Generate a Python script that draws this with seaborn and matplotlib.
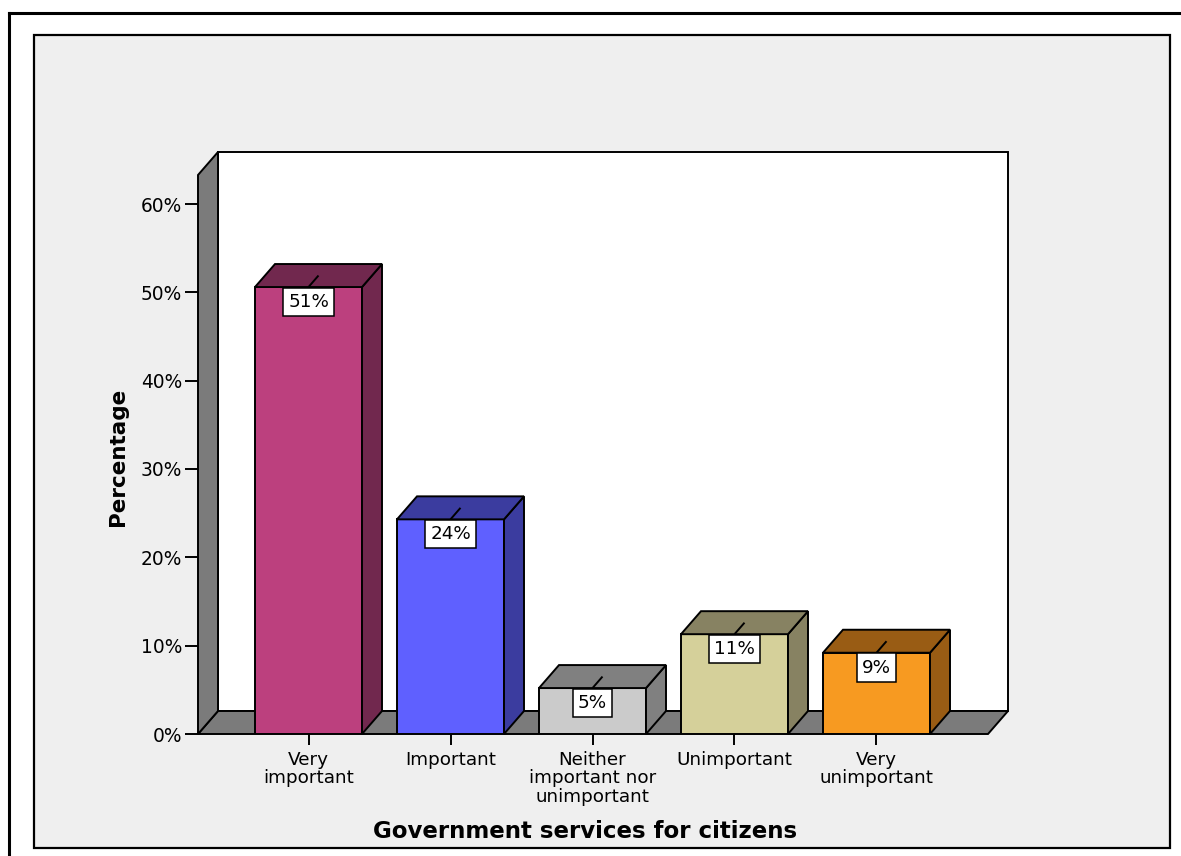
import matplotlib
matplotlib.use("Agg")
import matplotlib.pyplot as plt
from matplotlib.patches import Polygon, Rectangle
from matplotlib.lines import Line2D
import seaborn as sns
import pandas as pd

# ---- data -------------------------------------------------------------
categories = ["Very important", "Important", "Neither important nor unimportant",
              "Unimportant", "Very unimportant"]
tick_labels = ["Very\nimportant", "Important", "Neither\nimportant nor\nunimportant",
               "Unimportant", "Very\nunimportant"]
percentages = [50.6, 24.3, 5.2, 11.3, 9.2]
y_ticks = [0, 10, 20, 30, 40, 50, 60]

front_colors = ["#bc407e", "#5f60ff", "#cbcbcb", "#d5d09a", "#f79a21"]
shade_colors = ["#71284e", "#3b3c9f", "#808080", "#878262", "#995c14"]

# ---- figure / axes geometry (pixels) ----------------------------------
W, H = 1181, 856
fig = plt.figure(figsize=(W / 100, H / 100), dpi=100, facecolor="white")
plt.rcParams["font.family"] = ["DejaVu Sans"]

ax_left, ax_right, ax_top, ax_bottom = 198, 988, 175, 734
ax = fig.add_axes([ax_left / W, (H - ax_bottom) / H,
                   (ax_right - ax_left) / W, (ax_bottom - ax_top) / H])
ax.set_facecolor("none")

# page frames
fig.add_artist(Line2D([9 / W, 9 / W], [0, 1 - 13 / H], transform=fig.transFigure,
                      color="black", lw=2.2))
fig.add_artist(Line2D([9 / W, 1], [1 - 13 / H, 1 - 13 / H], transform=fig.transFigure,
                      color="black", lw=2.2))
fig.add_artist(Rectangle((34 / W, 1 - 848 / H), (1170 - 34) / W, (848 - 35) / H,
                         transform=fig.transFigure, facecolor="#efefef",
                         edgecolor="black", lw=1.6, zorder=-10))

# scale: category spacing and percent scale in pixels
cat_px = 142.0
pct_px = (734 - 204) / 60.0
x0 = (ax_left - 308.5) / cat_px
x1 = (ax_right - 308.5) / cat_px
ymax = (ax_bottom - ax_top) / pct_px
DX = 20 / cat_px          # depth offset (x, data units)
DY = 23 / pct_px          # depth offset (y, data units)
bar_w = 107 / cat_px
LW = 1.4

# ---- bars (front faces) -----------------------------------------------
df = pd.DataFrame({"category": categories, "pct": percentages})
sns.barplot(data=df, x="category", y="pct", hue="category", palette=front_colors,
            saturation=1, width=bar_w, edgecolor="black", linewidth=LW,
            legend=False, ax=ax, zorder=2)

ax.set_xlim(x0, x1)
ax.set_ylim(0, ymax)

# ---- 3D box: back wall, floor, side wall --------------------------------
def poly(pts, fc, z):
    p = Polygon(pts, closed=True, facecolor=fc, edgecolor="black", lw=LW,
                joinstyle="miter", clip_on=False, zorder=z)
    ax.add_patch(p)

poly([(x0 + DX, DY), (x1 + DX, DY), (x1 + DX, ymax + DY), (x0 + DX, ymax + DY)],
     "white", 0.1)
poly([(x0, 0), (x1, 0), (x1 + DX, DY), (x0 + DX, DY)], "#7b7b7b", 0.2)
poly([(x0, 0), (x0, ymax), (x0 + DX, ymax + DY), (x0 + DX, DY)], "#7b7b7b", 0.3)

# ---- bar sides, tops and value labels ------------------------------------
for i, (v, sc) in enumerate(zip(percentages, shade_colors)):
    l, r = i - bar_w / 2, i + bar_w / 2
    poly([(r, 0), (r + DX, DY), (r + DX, v + DY), (r, v)], sc, 2.1)
    poly([(l, v), (r, v), (r + DX, v + DY), (l + DX, v + DY)], sc, 2.1)
    ax.plot([i, i + DX / 2], [v, v + DY / 2], color="black", lw=LW,
            clip_on=False, zorder=2.2, solid_capstyle="butt")
    ax.annotate(f"{v:.0f}%", xy=(i, v), xytext=(0, -4.2), textcoords="offset points",
                ha="center", va="top", fontsize=13.2, color="black", zorder=3,
                bbox=dict(boxstyle="square,pad=0.28", facecolor="white",
                          edgecolor="black", lw=1.1))

# ---- axes decoration ----------------------------------------------------
for s in ax.spines.values():
    s.set_visible(False)

ax.set_yticks(y_ticks)
ax.set_yticklabels([f"{t}%" for t in y_ticks])
ax.set_xticks(range(len(categories)))
ax.set_xticklabels(tick_labels, linespacing=1.05)
ax.tick_params(axis="y", direction="out", length=9.6, width=LW, pad=2,
               labelsize=13.4, colors="black")
ax.tick_params(axis="x", direction="out", length=8, width=LW, pad=4,
               labelsize=13.2, colors="black")

ax.set_xlabel("Government services for citizens", fontsize=16.5, fontweight="bold")
ax.xaxis.label.set_va("center")
ax.xaxis.set_label_coords((585 - ax_left) / (ax_right - ax_left),
                          (ax_bottom - 831) / (ax_bottom - ax_top))
ax.set_ylabel("Percentage", fontsize=15.5, fontweight="bold")
ax.yaxis.label.set_va("center")
ax.yaxis.set_label_coords((118 - ax_left) / (ax_right - ax_left),
                          (ax_bottom - 457) / (ax_bottom - ax_top))

fig.savefig("out.png", dpi=100, facecolor=fig.get_facecolor())
